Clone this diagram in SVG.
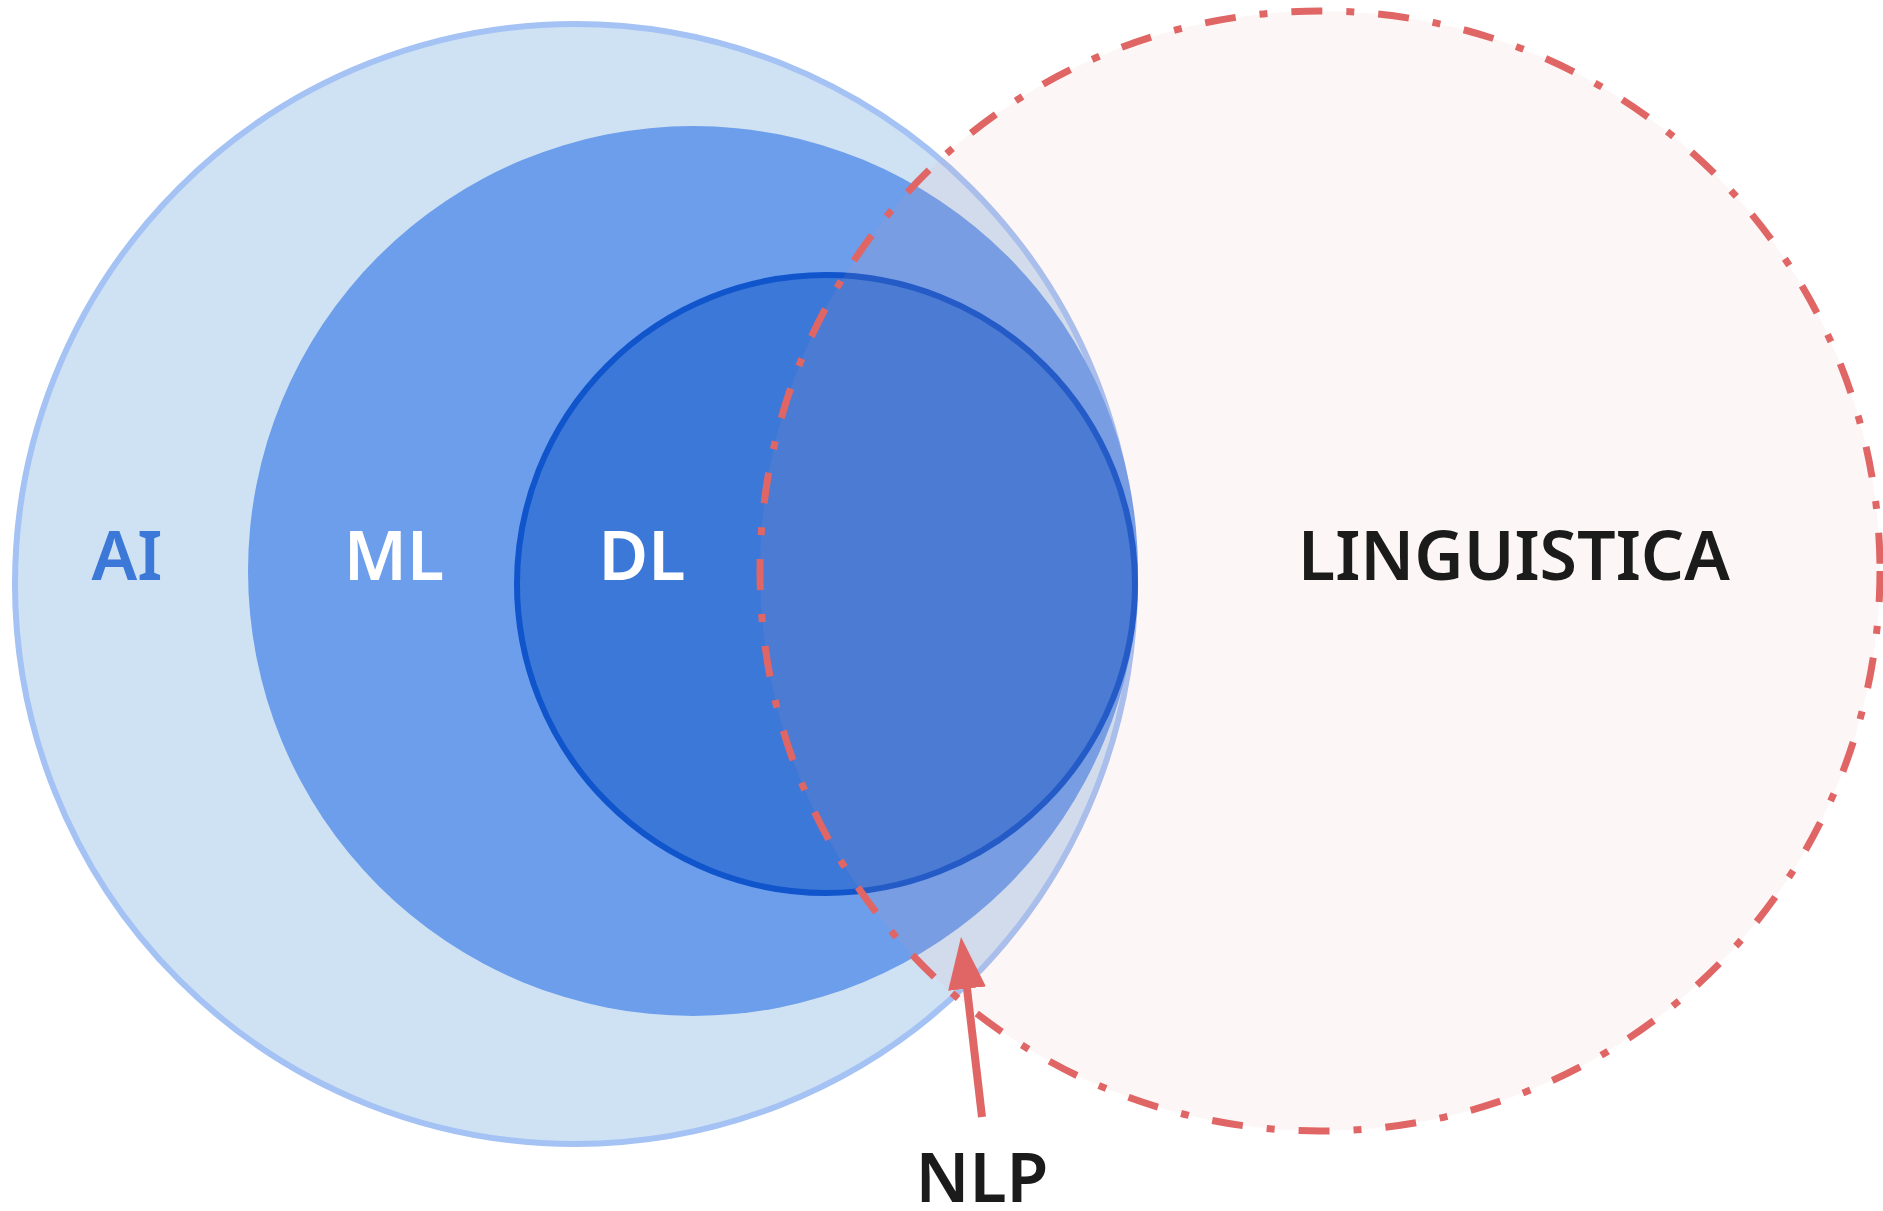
<svg xmlns="http://www.w3.org/2000/svg" width="1883" height="1211" viewBox="0 0 1883 1211">
  <style>
    .lbl { font-family: "Noto Sans", "Liberation Sans", sans-serif; font-weight: 600; font-size: 68px; text-anchor: middle; }
    .dark { fill: #1b1b1b; }
    .white { fill: #ffffff; }
  </style>
  <defs>
    <marker id="arrowhead" markerUnits="userSpaceOnUse" markerWidth="52" markerHeight="38" viewBox="0 0 52 38" refX="2" refY="19" orient="auto">
      <path d="M0,0 L52,19 L0,38 z" fill="#e06666"/>
    </marker>
  </defs>
  <rect width="1883" height="1211" fill="#ffffff"/>
  <g id="node-ai">
    <circle cx="575" cy="584" r="560" fill="#cfe2f3" stroke="#a4c2f4" stroke-width="6"/>
    <text class="lbl" x="127" y="580" fill="#3c78d8">AI</text>
  </g>
  <g id="node-ml">
    <circle cx="693" cy="571" r="445" fill="#6d9eeb"/>
    <text class="lbl white" x="394" y="580">ML</text>
  </g>
  <g id="node-dl">
    <circle cx="826" cy="584" r="309" fill="#3c78d8" stroke="#1155cc" stroke-width="6"/>
    <text class="lbl white" x="642" y="580">DL</text>
  </g>
  <g id="node-linguistica">
    <circle cx="1320" cy="571" r="560" fill="#ea9999" fill-opacity="0.09" stroke="#e06666" stroke-width="7" stroke-dasharray="31 24 8 24"/>
    <text class="lbl dark" x="1514" y="580">LINGUISTICA</text>
  </g>
  <g id="node-nlp">
    <text class="lbl dark" x="982" y="1202">NLP</text>
  </g>
  <g id="connectors">
    <line x1="982" y1="1117" x2="966.8" y2="986.6" stroke="#e06666" stroke-width="8" marker-end="url(#arrowhead)"/>
  </g>
</svg>
